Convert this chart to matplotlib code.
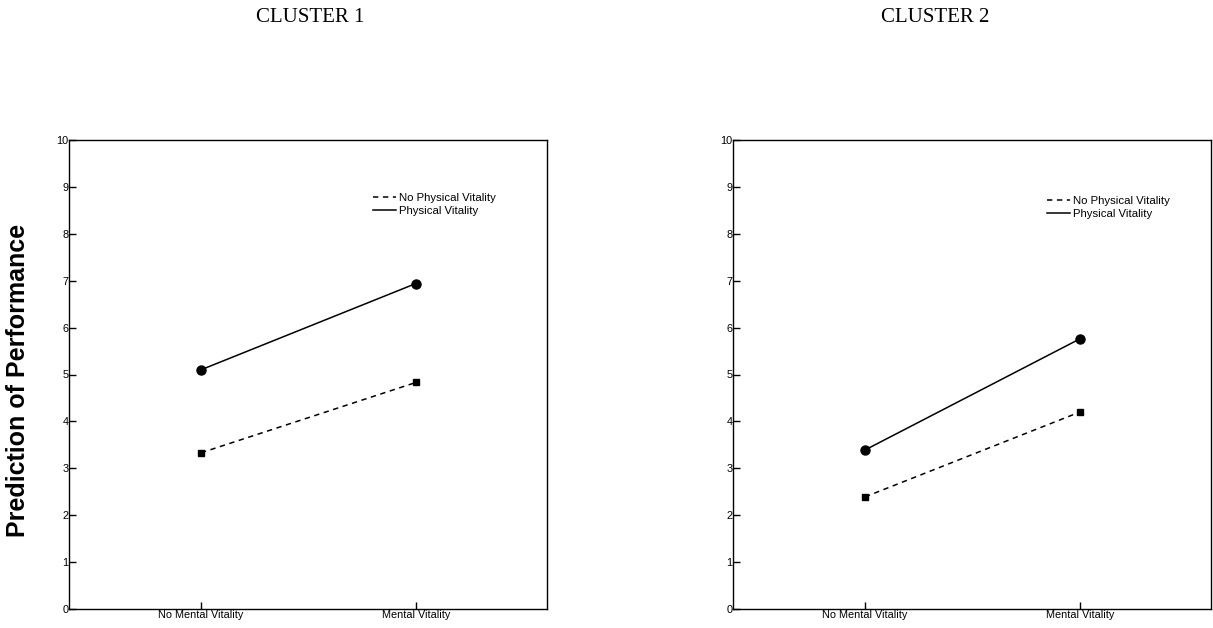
import numpy as np
import matplotlib.pyplot as plt
from matplotlib.lines import Line2D

# données
categories = ["No Mental Vitality", "Mental Vitality"]
series_names = ["No Physical Vitality", "Physical Vitality"]

cluster1_no_phys = [3.33, 4.83]
cluster1_phys = [5.10, 6.94]
cluster2_no_phys = [2.39, 4.20]
cluster2_phys = [3.39, 5.76]

yticks = list(range(0, 11))

plt.rcParams['font.family'] = ['Liberation Sans', 'DejaVu Sans']

fig = plt.figure(figsize=(12.13, 6.28), dpi=100)

ax1 = fig.add_axes([69 / 1213, 19 / 628, 478 / 1213, 469 / 628])
ax2 = fig.add_axes([733 / 1213, 19 / 628, 478 / 1213, 469 / 628])


def tracer(ax, no_phys, phys, leg_pos):
    x = np.arange(len(categories))
    ax.plot(x, no_phys, '--', color="black", lw=1.1, dashes=(3.5, 3),
            marker='s', ms=4.5)
    ax.plot(x, phys, '-', color="black", lw=1.1, marker='o', ms=6.5)
    ax.set_xlim(-0.614, 1.61)
    ax.set_ylim(0, 10)
    ax.set_xticks(x)
    ax.set_xticklabels(categories, fontsize=7.8)
    ax.set_yticks(yticks)
    ax.set_yticklabels([str(v) for v in yticks], fontsize=7.8)
    ax.tick_params(axis='both', direction='in', length=5, width=1, pad=0.5)
    for s in ax.spines.values():
        s.set_linewidth(1.0)
    # légende sans marqueurs
    handles = [Line2D([], [], color="black", lw=1.1, ls='--', dashes=(3.5, 3)),
               Line2D([], [], color="black", lw=1.1, ls='-')]
    ax.legend(handles, series_names, loc='upper left', bbox_to_anchor=leg_pos,
              frameon=False, fontsize=8.2, handlelength=2.0, handletextpad=0.3,
              labelspacing=0.3, borderpad=0, borderaxespad=0)


tracer(ax1, cluster1_no_phys, cluster1_phys, (0.636, 0.888))
tracer(ax2, cluster2_no_phys, cluster2_phys, (0.657, 0.881))

fig.text(310 / 1213, 1 - 18 / 628, "CLUSTER 1", ha='center', va='center',
         fontsize=15, family=['Liberation Serif', 'DejaVu Serif'])
fig.text(935 / 1213, 1 - 18 / 628, "CLUSTER 2", ha='center', va='center',
         fontsize=15, family=['Liberation Serif', 'DejaVu Serif'])
fig.text(18 / 1213, 1 - 380 / 628, "Prediction of Performance", rotation=90,
         ha='center', va='center', fontsize=18, fontweight='bold')

fig.savefig("out.png", dpi=100)
